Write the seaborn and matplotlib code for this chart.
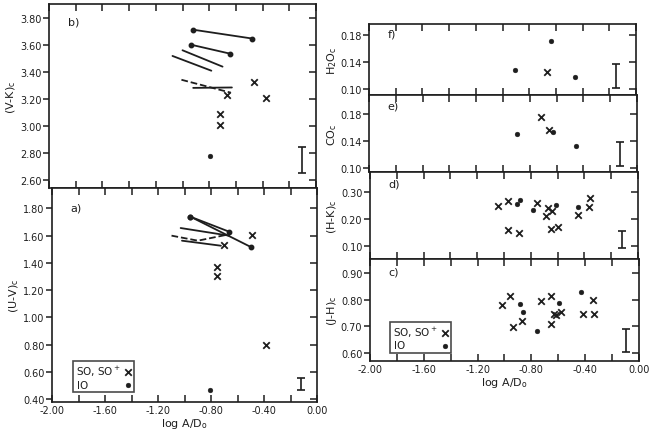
import matplotlib
matplotlib.use("Agg")
import matplotlib.pyplot as plt
import seaborn as sns
import pandas as pd

sns.set_style("ticks")
plt.rcParams['font.family'] = ['DejaVu Sans']
plt.rcParams['mathtext.default'] = 'regular'

INK = '#1e1e1e'

# legend labels (IO padded so both labels start flush left)
so_label = 'SO, SO$^+$'
io_label = 'IO' + ' ' * 10

# ---- panel b) (V-K)c ----
b_so_x = [-0.664, -0.468, -0.374, -0.72, -0.72]
b_so_y = [3.23, 3.324, 3.205, 3.087, 3.007]
b_io_x = [-0.797]
b_io_y = [2.773]
# segments: x values, y values, line style, dots at the ends
b_lines = [
    ([-0.92, -0.48], [3.71, 3.645], '-', True),
    ([-0.94, -0.644], [3.60, 3.533], '-', True),
    ([-1.075, -0.784], [3.516, 3.407], '-', False),
    ([-1.0, -0.70], [3.558, 3.437], '-', False),
    ([-1.008, -0.64], [3.34, 3.245], '--', False),
    ([-0.92, -0.63], [3.28, 3.283], '-', False),
]
b_err = (-0.105, 2.745, 0.095)

# ---- panel a) (U-V)c ----
a_so_x = [-0.70, -0.494, -0.753, -0.753, -0.387]
a_so_y = [1.533, 1.607, 1.373, 1.30, 0.798]
a_io_x = [-0.81]
a_io_y = [0.466]
a_lines = [
    ([-0.955, -0.663], [1.739, 1.629], '-', True),
    ([-0.955, -0.496], [1.739, 1.515], '-', True),
    ([-1.029, -0.663], [1.656, 1.60], '-', False),
    ([-1.098, -0.899, -0.688], [1.60, 1.563, 1.605], '--', False),
    ([-1.019, -0.725], [1.563, 1.526], '-', False),
]
a_err = (-0.12, 0.51, 0.045)

# ---- panel f) H2Oc ----
f_so_x = [-0.665]
f_so_y = [0.124]
f_io_x = [-0.905, -0.64, -0.46]
f_io_y = [0.127, 0.170, 0.117]
f_err = (-0.15, 0.119, 0.018)

# ---- panel e) COc ----
e_so_x = [-0.72, -0.66]
e_so_y = [0.176, 0.156]
e_io_x = [-0.895, -0.625, -0.455]
e_io_y = [0.151, 0.153, 0.133]
e_err = (-0.13, 0.1205, 0.0175)

# ---- panel d) (H-K)c ----
d_so_x = [-1.045, -0.968, -0.755, -0.687, -0.674, -0.644, -0.445, -0.367,
          -0.355, -0.97, -0.888, -0.65, -0.60]
d_so_y = [0.248, 0.269, 0.262, 0.213, 0.243, 0.232, 0.215, 0.246,
          0.277, 0.159, 0.151, 0.163, 0.171]
d_io_x = [-0.905, -0.882, -0.782, -0.612, -0.445]
d_io_y = [0.256, 0.271, 0.233, 0.254, 0.246]
d_err = (-0.12, 0.125, 0.03)

# ---- panel c) (J-H)c ----
c_so_x = [-1.022, -0.957, -0.94, -0.872, -0.732, -0.657, -0.657, -0.63,
          -0.62, -0.58, -0.42, -0.342, -0.332]
c_so_y = [0.779, 0.812, 0.699, 0.721, 0.794, 0.814, 0.711, 0.748,
          0.742, 0.754, 0.748, 0.80, 0.748]
c_io_x = [-0.885, -0.86, -0.76, -0.592, -0.43]
c_io_y = [0.783, 0.754, 0.684, 0.786, 0.829]
c_err = (-0.10, 0.648, 0.042)

xticks = [-2.0, -1.6, -1.2, -0.8, -0.4, 0.0]
xminor = [-1.8, -1.4, -1.0, -0.6, -0.2]

W, H = 657, 435
fig = plt.figure(figsize=(W / 100, H / 100), dpi=100)
fig.patch.set_facecolor('white')


def frame(px_left, px_right, px_top, px_bot):
    return fig.add_axes([px_left / W, 1 - px_bot / H,
                         (px_right - px_left) / W, (px_bot - px_top) / H])


def draw(ax, so_x, so_y, io_x, io_y, err, ylim, yticks, ylabel, tag,
         bottom=False, lines=()):
    for xs, ys, ls, dots in lines:
        ax.plot(xs, ys, ls=ls, color=INK, lw=1.3,
                marker='o' if dots else None, ms=3.2,
                markevery=[0, len(xs) - 1] if dots else None)
    so = pd.DataFrame({'x': so_x, 'y': so_y})
    io = pd.DataFrame({'x': io_x, 'y': io_y})
    sns.scatterplot(data=so, x='x', y='y', ax=ax, marker='x', s=22,
                    color=INK, linewidth=1.3, label=so_label)
    sns.scatterplot(data=io, x='x', y='y', ax=ax, marker='o', s=12,
                    color=INK, edgecolor=INK, label=io_label)
    if ax.get_legend() is not None:
        ax.get_legend().remove()
    ex, ey, eh = err
    ax.errorbar([ex], [ey], yerr=[eh], fmt='none', ecolor=INK,
                elinewidth=1.2, capsize=3, capthick=1.2)
    ax.set_xlim(-2.0, 0.0)
    ax.set_ylim(*ylim)
    ax.set_yticks(yticks)
    ax.set_yticklabels(['%.2f' % v for v in yticks], fontsize=7, color=INK)
    ax.set_xticks(xticks)
    ax.set_xticks(xminor, minor=True)
    ax.tick_params(axis='x', which='both', direction='in', length=5,
                   width=1.1, top=True, bottom=True, colors=INK, pad=2)
    ax.tick_params(axis='y', direction='out', length=4, width=1.1,
                   left=True, right=False, colors=INK, pad=1.5)
    ax2 = ax.secondary_yaxis('right')
    ax2.set_yticks(yticks)
    ax2.tick_params(axis='y', direction='in', length=5, width=1.1,
                    labelright=False, colors=INK)
    ax2.spines['right'].set_visible(False)
    if bottom:
        ax.set_xticklabels(['%.2f' % v for v in xticks], fontsize=7,
                           color=INK)
        ax.set_xlabel(r'log A/D$_o$', fontsize=8, color=INK, labelpad=1)
    else:
        ax.set_xticklabels([])
        ax.set_xlabel('')
    ax.set_ylabel(ylabel, fontsize=8, color=INK, labelpad=1)
    for s in ax.spines.values():
        s.set_linewidth(1.2)
        s.set_color(INK)
    ax.text(0.07, 0.93, tag, transform=ax.transAxes, fontsize=8,
            color=INK, va='top', ha='left')


def legend_box(ax, bx, by):
    leg = ax.legend(loc='lower left', bbox_to_anchor=(bx, by),
                    markerfirst=False, frameon=True, fancybox=False,
                    edgecolor=INK, fontsize=7.5, handlelength=0.6,
                    handletextpad=0.4, borderpad=0.25, labelspacing=0.15,
                    borderaxespad=0)
    leg.get_frame().set_linewidth(1.2)
    for t in leg.get_texts():
        t.set_color(INK)
    return leg


ax_b = frame(49, 316, 5, 189)
draw(ax_b, b_so_x, b_so_y, b_io_x, b_io_y, b_err, (2.54, 3.90),
     [2.6, 2.8, 3.0, 3.2, 3.4, 3.6, 3.8], r'(V-K)$_c$', 'b)', lines=b_lines)

ax_a = frame(52, 317, 189, 403)
draw(ax_a, a_so_x, a_so_y, a_io_x, a_io_y, a_err, (0.378, 1.95),
     [0.4, 0.6, 0.8, 1.0, 1.2, 1.4, 1.6, 1.8], r'(U-V)$_c$', 'a)',
     bottom=True, lines=a_lines)
legend_box(ax_a, 0.08, 0.045)

ax_f = frame(369, 636, 25, 96)
draw(ax_f, f_so_x, f_so_y, f_io_x, f_io_y, f_err, (0.0905, 0.196),
     [0.10, 0.14, 0.18], r'H$_2$O$_c$', 'f)')

ax_e = frame(369, 637, 96, 173)
draw(ax_e, e_so_x, e_so_y, e_io_x, e_io_y, e_err, (0.094, 0.208),
     [0.10, 0.14, 0.18], r'CO$_c$', 'e)')

ax_d = frame(370, 638, 173, 260)
draw(ax_d, d_so_x, d_so_y, d_io_x, d_io_y, d_err, (0.053, 0.375),
     [0.10, 0.20, 0.30], r'(H-K)$_c$', 'd)')

ax_c = frame(370, 639, 260, 362)
draw(ax_c, c_so_x, c_so_y, c_io_x, c_io_y, c_err, (0.571, 0.952),
     [0.6, 0.7, 0.8, 0.9], r'(J-H)$_c$', 'c)', bottom=True)
legend_box(ax_c, 0.075, 0.08)

fig.savefig('out.png', dpi=100, facecolor='white')
